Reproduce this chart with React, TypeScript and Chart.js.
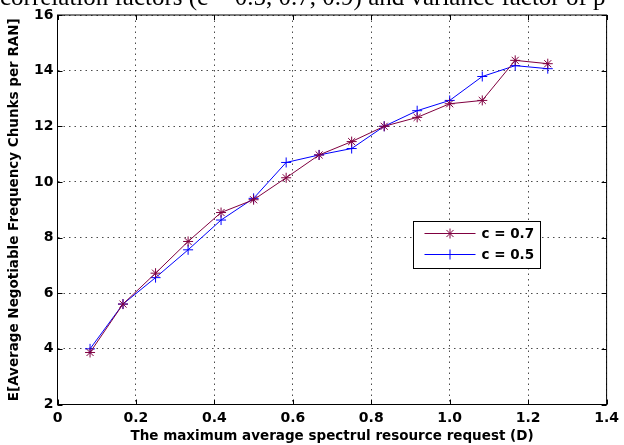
import { useEffect, useRef } from "react";
import { Chart, registerables } from "chart.js";

Chart.register(...registerables);

const xValues = [0.083, 0.167, 0.25, 0.333, 0.417, 0.5, 0.583, 0.667, 0.75, 0.833, 0.917, 1.0, 1.083, 1.167, 1.25];
const seriesC07 = [3.87, 5.61, 6.72, 7.86, 8.9, 9.36, 10.15, 10.97, 11.45, 12.0, 12.32, 12.81, 12.93, 14.37, 14.25];
const seriesC05 = [4.0, 5.61, 6.56, 7.56, 8.63, 9.41, 10.7, 10.97, 11.2, 12.0, 12.56, 12.93, 13.79, 14.18, 14.07];
const seriesLabels = ["c = 0.7", "c = 0.5"];
const seriesColors = ["#800040", "#0000ff"];
const seriesMarkers = ["star", "cross"];
const xTicks = [0, 0.2, 0.4, 0.6, 0.8, 1, 1.2, 1.4];
const yTicks = [2, 4, 6, 8, 10, 12, 14, 16];
const xTitle = "The maximum average spectrul resource request (D)";
const yTitle = "E[Average Negotiable Frequency Chunks per RAN]";
const headerText = "correlation factors (c = 0.5, 0.7, 0.9) and variance factor of p = 0";

function drawMarker(ctx: CanvasRenderingContext2D, style: string, x: number, y: number, r: number) {
  ctx.beginPath();
  ctx.moveTo(x - r, y);
  ctx.lineTo(x + r, y);
  ctx.moveTo(x, y - r);
  ctx.lineTo(x, y + r);
  if (style === "star") {
    const d = r * Math.cos(Math.PI / 4);
    ctx.moveTo(x - d, y - d);
    ctx.lineTo(x + d, y + d);
    ctx.moveTo(x - d, y + d);
    ctx.lineTo(x + d, y - d);
  }
  ctx.stroke();
}

const framePlugin = {
  id: "matlabFrame",
  beforeDraw(chart: any) {
    const ctx = chart.ctx as CanvasRenderingContext2D;
    ctx.save();
    ctx.fillStyle = "#ffffff";
    ctx.fillRect(0, 0, chart.width, chart.height);
    ctx.fillStyle = "#000000";
    ctx.font = '25px "Liberation Serif"';
    ctx.textBaseline = "alphabetic";
    ctx.textAlign = "left";
    ctx.fillText(headerText, 0, 5);
    ctx.restore();
  },
  afterDraw(chart: any) {
    const ctx = chart.ctx as CanvasRenderingContext2D;
    const a = chart.chartArea;
    const sx = chart.scales.x;
    const sy = chart.scales.y;
    ctx.save();
    ctx.setLineDash([]);
    ctx.strokeStyle = "#000000";
    ctx.lineWidth = 1;
    ctx.strokeRect(a.left, a.top, a.right - a.left, a.bottom - a.top);
    const tl = 5;
    ctx.beginPath();
    for (const v of xTicks) {
      const px = Math.round(sx.getPixelForValue(v)) + 0.5;
      ctx.moveTo(px, a.bottom);
      ctx.lineTo(px, a.bottom - tl);
      ctx.moveTo(px, a.top);
      ctx.lineTo(px, a.top + tl);
    }
    for (const v of yTicks) {
      const py = Math.round(sy.getPixelForValue(v)) + 0.5;
      ctx.moveTo(a.left, py);
      ctx.lineTo(a.left + tl, py);
      ctx.moveTo(a.right, py);
      ctx.lineTo(a.right - tl, py);
    }
    ctx.stroke();

    // legend
    const bx = Math.round(a.right - 194) + 0.5;
    const by = Math.round(a.top + 206) + 0.5;
    const bw = 127;
    const bh = 47;
    ctx.fillStyle = "#ffffff";
    ctx.fillRect(bx, by, bw, bh);
    ctx.strokeStyle = "#000000";
    ctx.lineWidth = 1;
    ctx.strokeRect(bx, by, bw, bh);
    ctx.font = 'bold 13.5px "DejaVu Sans"';
    ctx.textBaseline = "middle";
    ctx.textAlign = "left";
    seriesLabels.forEach((label, i) => {
      const ly = by + 12 + i * 21;
      ctx.strokeStyle = seriesColors[i];
      ctx.lineWidth = 1;
      ctx.beginPath();
      ctx.moveTo(bx + 11, ly);
      ctx.lineTo(bx + 62, ly);
      ctx.stroke();
      drawMarker(ctx, seriesMarkers[i], bx + 36.5, ly, 5);
      ctx.fillStyle = "#000000";
      ctx.fillText(label, bx + 68, ly + 1);
    });
    ctx.restore();
  },
};

export default function App() {
  const canvasRef = useRef<HTMLCanvasElement | null>(null);

  useEffect(() => {
    const canvas = canvasRef.current;
    if (!canvas) return;
    const mk = (vals: number[]) => xValues.map((x, i) => ({ x, y: vals[i] }));
    const tickFont = { family: "DejaVu Sans", size: 14, weight: "bold" as const };
    const titleFont = { family: "DejaVu Sans", size: 13.5, weight: "bold" as const };
    const chart = new Chart(canvas, {
      type: "line",
      data: {
        datasets: [
          {
            label: seriesLabels[0],
            data: mk(seriesC07),
            borderColor: seriesColors[0],
            backgroundColor: seriesColors[0],
            borderWidth: 1,
            pointStyle: seriesMarkers[0] as any,
            pointRadius: 5,
            pointBorderWidth: 1,
            pointBorderColor: seriesColors[0],
            tension: 0,
            fill: false,
          },
          {
            label: seriesLabels[1],
            data: mk(seriesC05),
            borderColor: seriesColors[1],
            backgroundColor: seriesColors[1],
            borderWidth: 1,
            pointStyle: seriesMarkers[1] as any,
            pointRadius: 5,
            pointBorderWidth: 1,
            pointBorderColor: seriesColors[1],
            tension: 0,
            fill: false,
          },
        ],
      },
      options: {
        responsive: false,
        animation: false,
        devicePixelRatio: 1,
        layout: { padding: { top: 15, right: 13, left: 0, bottom: 0 } },
        plugins: {
          legend: { display: false },
          tooltip: { enabled: false },
          title: { display: false },
        },
        scales: {
          x: {
            type: "linear",
            min: 0,
            max: 1.4,
            afterBuildTicks: (s: any) => {
              s.ticks = xTicks.map((v) => ({ value: v }));
            },
            afterFit: (s: any) => {
              s.height = 40.5;
            },
            ticks: { font: tickFont, color: "#000", padding: 5, maxRotation: 0, autoSkip: false },
            grid: { color: "rgba(0,0,0,0.7)", lineWidth: 1, drawTicks: false },
            border: { display: false, dash: [1.5, 4] },
            title: { display: true, text: xTitle, font: titleFont, color: "#000", padding: { top: 0, bottom: 0 } },
          },
          y: {
            type: "linear",
            min: 2,
            max: 16,
            afterBuildTicks: (s: any) => {
              s.ticks = yTicks.map((v) => ({ value: v }));
            },
            afterFit: (s: any) => {
              s.width = 57.5;
            },
            ticks: { font: tickFont, color: "#000", padding: 4, autoSkip: false },
            grid: { color: "rgba(0,0,0,0.7)", lineWidth: 1, drawTicks: false },
            border: { display: false, dash: [1.5, 4] },
            title: { display: true, text: yTitle, font: titleFont, color: "#000", padding: { top: 6, bottom: 0 } },
          },
        },
      },
      plugins: [framePlugin],
    });
    return () => chart.destroy();
  }, []);

  return (
    <div style={{ position: "fixed", left: 0, top: 0, width: 624, height: 445, background: "#fff" }}>
      <canvas ref={canvasRef} width={624} height={445} style={{ display: "block" }} />
    </div>
  );
}
